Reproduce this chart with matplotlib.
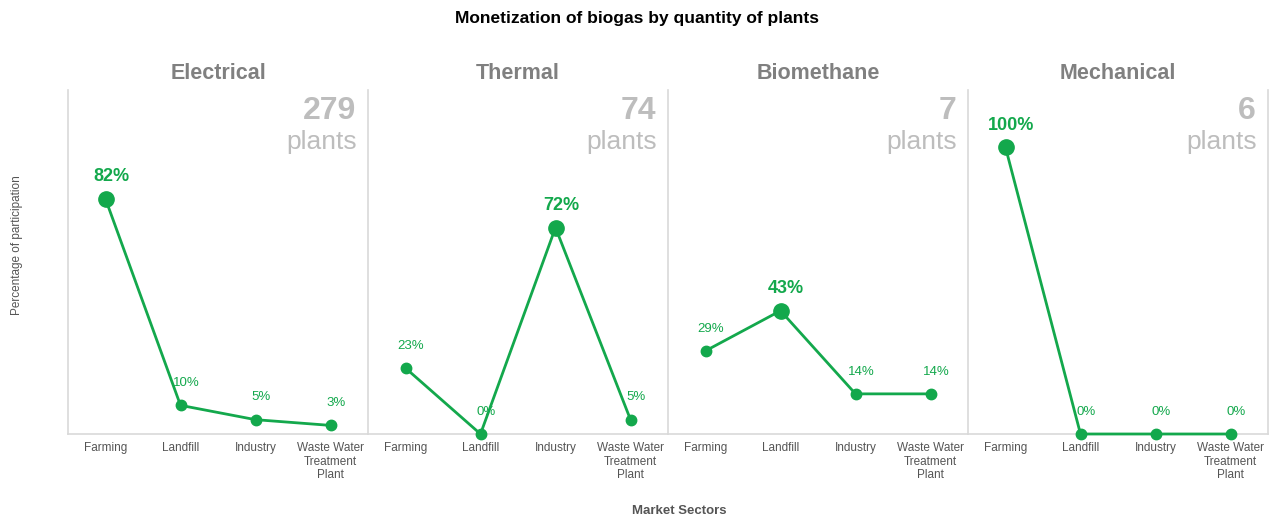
import matplotlib.pyplot as plt

# ---------------------------
# Data
# ---------------------------
SECTORS = ["Farming", "Landfill", "Industry", "Waste Water\nTreatment\nPlant"]
USES = ["Electrical", "Thermal", "Biomethane", "Mechanical"]
PLANTS = [279, 74, 7, 6]
ELECTRICAL = [82, 10, 5, 3]
THERMAL = [23, 0, 72, 5]
BIOMETHANE = [29, 43, 14, 14]
MECHANICAL = [100, 0, 0, 0]

GREEN = "#13a84c"
GRID_GRAY = "#d9d9d9"

plt.rcParams["font.family"] = ["Liberation Sans", "DejaVu Sans"]

fig = plt.figure(figsize=(12.74, 5.19), dpi=100)

left, bottom, width, height = 68 / 1274, 1 - 434 / 519, 300 / 1274, 344 / 519
series = [ELECTRICAL, THERMAL, BIOMETHANE, MECHANICAL]

for i, (name, vals, n) in enumerate(zip(USES, series, PLANTS)):
    ax = fig.add_axes([left + i * width, bottom, width, height])
    x = list(range(len(SECTORS)))
    ax.plot(x, vals, color=GREEN, lw=2, clip_on=False, zorder=3)
    imax = vals.index(max(vals))
    for j, v in enumerate(vals):
        big = j == imax
        ax.plot(j, v, "o", color=GREEN, ms=11 if big else 7.5,
                clip_on=False, zorder=4)
        ax.annotate(f"{v}%", (j, v), xytext=(4, 16),
                    textcoords="offset points", ha="center", va="center",
                    color=GREEN, fontsize=13 if big else 9.5,
                    fontweight="bold" if big else "normal")

    ax.set_xlim(-0.5, 3.5)
    ax.set_ylim(0, 120)
    ax.set_xticks(x)
    ax.set_xticklabels(SECTORS, fontsize=8.5, color="#555555", linespacing=1.15)
    ax.set_yticks([])
    ax.tick_params(axis="x", length=0, pad=6)

    for s in ["top", "right"]:
        ax.spines[s].set_visible(False)
    ax.spines["left"].set_color(GRID_GRAY)
    ax.spines["bottom"].set_color(GRID_GRAY)
    ax.spines["left"].set_linewidth(1.2)
    ax.spines["bottom"].set_linewidth(1.2)
    if i == len(USES) - 1:
        ax.spines["right"].set_visible(True)
        ax.spines["right"].set_color(GRID_GRAY)
        ax.spines["right"].set_linewidth(1.2)

    ax.set_title(name, fontsize=15.5, fontweight="bold", color="#808080", pad=8)
    ax.text(0.96, 0.94, str(n), transform=ax.transAxes, ha="right", va="center",
            fontsize=23, fontweight="bold", color="#bdbdbd")
    ax.text(0.963, 0.85, "plants", transform=ax.transAxes, ha="right", va="center",
            fontsize=19, color="#bdbdbd")

fig.text(0.5, 1 - 18 / 519, "Monetization of biogas by quantity of plants",
         ha="center", va="center", fontsize=12.5, fontweight="bold", color="black")
fig.text(679 / 1274, 1 - 511 / 519, "Market Sectors", ha="center", va="center",
         fontsize=9.5, fontweight="bold", color="#555555")
fig.text(17 / 1274, 1 - 245 / 519, "Percentage of participation", rotation=90,
         ha="center", va="center", fontsize=8.5, color="#555555")

fig.savefig("out.png", dpi=100)
